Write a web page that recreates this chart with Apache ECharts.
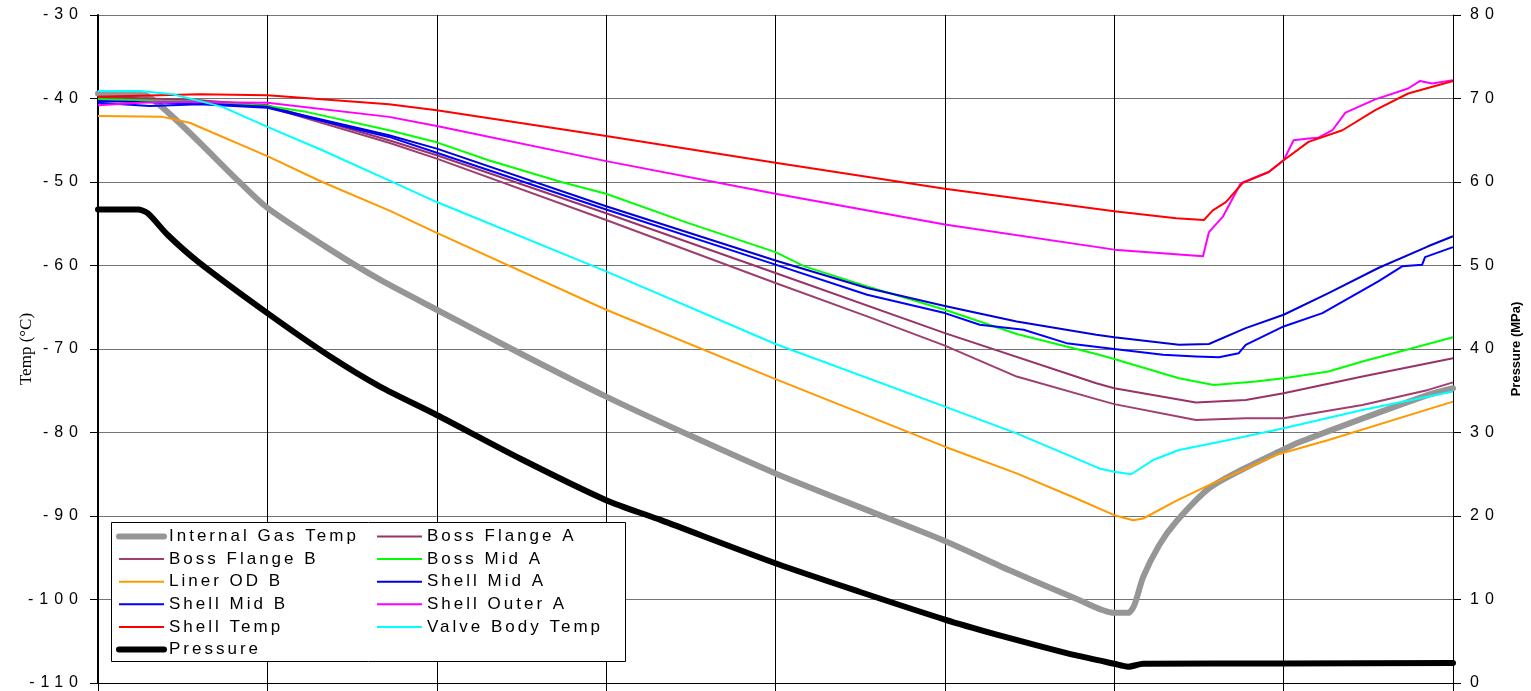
<!DOCTYPE html>
<html><head><meta charset="utf-8">
<script src="https://cdn.jsdelivr.net/npm/echarts@6/dist/echarts.min.js"></script>
<style>html,body{margin:0;padding:0;background:#fff}#chart{width:1531px;height:691px}</style>
</head><body><div id="chart"></div>
<script>
// letter spacing helper: font family marker "lspN" => N px letter spacing
(function(){
  var P = CanvasRenderingContext2D.prototype, orig = P.fillText;
  P.fillText = function(t, x, y, w){
    var m = /lsp(\d+)/.exec(this.font || '');
    if ('letterSpacing' in this) this.letterSpacing = m ? m[1] + 'px' : '0px';
    return w === undefined ? orig.call(this, t, x, y) : orig.call(this, t, x, y, w);
  };
})();

// ---- data: [time (grid units), value] ----
var tempTicks = [-110, -100, -90, -80, -70, -60, -50, -40, -30];
var pressureTicks = [0, 10, 20, 30, 40, 50, 60, 70, 80];

var gasTemp = [[0,-39.4],[0.265,-39.5],[0.347,-40.5],[0.541,-44.1],[0.835,-50.0],[1.0,-53.1],[1.371,-58.1],[1.665,-61.7],[2.0,-65.3],[2.5,-70.6],[3.0,-75.7],[3.5,-80.4],[4.0,-84.9],[4.541,-89.3],[5.0,-93.0],[5.382,-96.5],[5.776,-99.9],[6.0,-101.6],[6.082,-101.6],[6.118,-100.7],[6.171,-97.3],[6.265,-93.5],[6.365,-90.7],[6.559,-86.7],[6.759,-84.4],[6.971,-82.3],[7.088,-81.2],[7.853,-75.5],[8.0,-74.7]];
var bossFlangeA = [[0,-39.8],[0.6,-40.2],[1.0,-40.8],[1.718,-45.0],[2.0,-46.8],[3.0,-53.75],[4.0,-60.9],[5.0,-68.1],[5.894,-74.1],[6.0,-74.7],[6.482,-76.4],[6.776,-76.1],[7.0,-75.3],[7.465,-73.3],[8.0,-71.1]];
var bossFlangeB = [[0,-40.0],[0.6,-40.4],[1.0,-41.0],[1.718,-45.3],[2.0,-47.2],[3.0,-54.55],[4.0,-62.1],[4.541,-66.1],[5.0,-69.6],[5.424,-73.3],[5.894,-76.0],[6.0,-76.6],[6.482,-78.5],[6.776,-78.3],[7.0,-78.3],[7.465,-76.7],[7.853,-74.9],[8.0,-74.0]];
var bossMidA = [[0,-40.1],[0.6,-40.4],[1.0,-40.9],[1.229,-41.6],[1.718,-43.8],[2.0,-45.25],[2.306,-47.4],[2.735,-50.0],[3.0,-51.4],[3.482,-54.9],[4.0,-58.4],[4.171,-60.1],[4.541,-62.5],[5.0,-65.3],[5.424,-68.2],[5.894,-70.6],[6.0,-71.2],[6.382,-73.5],[6.588,-74.3],[6.835,-73.9],[7.0,-73.5],[7.265,-72.7],[7.465,-71.5],[7.759,-69.9],[8.0,-68.6]];
var linerODB = [[0,-42.1],[0.382,-42.2],[0.541,-42.9],[1.0,-46.9],[1.324,-50.0],[1.718,-53.4],[2.0,-56.1],[3.0,-65.3],[4.0,-73.6],[5.0,-81.7],[5.424,-84.9],[5.776,-87.9],[6.0,-89.9],[6.112,-90.5],[6.171,-90.3],[6.365,-88.2],[6.559,-86.3],[6.759,-84.5],[6.953,-82.7],[7.265,-80.9],[8.0,-76.3]];
var shellMidA = [[0,-40.3],[0.6,-40.6],[1.0,-41.0],[1.718,-44.4],[2.0,-46.0],[3.0,-52.9],[4.0,-59.4],[4.541,-62.7],[5.0,-64.85],[5.424,-66.7],[5.894,-68.3],[6.0,-68.6],[6.382,-69.5],[6.559,-69.4],[6.776,-67.5],[7.0,-65.9],[7.265,-63.3],[7.559,-60.3],[7.853,-57.7],[8.0,-56.5]];
var shellMidB = [[0,-40.5],[0.306,-40.9],[0.6,-40.7],[1.0,-41.1],[1.718,-44.6],[2.0,-46.5],[3.0,-53.3],[4.0,-59.9],[4.541,-63.5],[5.0,-65.7],[5.206,-67.1],[5.465,-67.7],[5.718,-69.3],[6.0,-70.0],[6.288,-70.7],[6.482,-70.9],[6.618,-71.0],[6.735,-70.5],[6.776,-69.5],[7.0,-67.3],[7.229,-65.7],[7.559,-61.9],[7.7,-60.1],[7.818,-59.9],[7.835,-59.0],[8.0,-57.8]];
var shellOuterA = [[0,-40.8],[0.347,-40.4],[1.0,-40.5],[1.718,-42.2],[2.0,-43.3],[3.0,-47.5],[4.0,-51.4],[5.0,-55.1],[6.0,-58.1],[6.524,-58.9],[6.559,-56.0],[6.641,-54.15],[6.747,-50.15],[6.912,-48.8],[7.0,-47.4],[7.059,-45.0],[7.147,-44.8],[7.206,-44.7],[7.288,-43.8],[7.365,-41.7],[7.541,-40.1],[7.735,-38.8],[7.806,-37.9],[7.876,-38.2],[8.0,-37.8]];
var shellTemp = [[0,-39.8],[0.6,-39.5],[1.0,-39.6],[1.718,-40.7],[2.0,-41.4],[3.0,-44.5],[4.0,-47.7],[5.0,-50.8],[6.0,-53.5],[6.365,-54.35],[6.529,-54.55],[6.582,-53.4],[6.659,-52.4],[6.759,-50.1],[6.912,-48.8],[7.0,-47.4],[7.147,-45.2],[7.347,-43.8],[7.541,-41.4],[7.735,-39.4],[8.0,-37.9]];
var valveBodyTemp = [[0,-39.1],[0.247,-39.1],[0.441,-39.5],[0.735,-41.0],[1.0,-43.4],[1.324,-46.2],[1.718,-49.8],[2.0,-52.4],[3.0,-60.7],[4.0,-69.4],[5.0,-76.9],[5.424,-80.1],[5.912,-84.3],[6.0,-84.7],[6.1,-85.0],[6.229,-83.3],[6.382,-82.1],[6.676,-80.9],[7.0,-79.5],[7.465,-77.3],[8.0,-75.1]];
var pressure = [[0,56.7],[0.235,56.7],[0.294,56.25],[0.412,53.65],[0.588,50.5],[1.0,44.3],[1.371,39.1],[1.665,35.5],[2.0,32.1],[2.5,26.8],[3.0,21.9],[3.324,19.5],[4.012,14.25],[4.5,10.9],[5.0,7.6],[5.306,5.8],[5.582,4.3],[5.776,3.3],[6.0,2.3],[6.082,1.95],[6.171,2.3],[7.0,2.35],[8.0,2.4]];

var thick = {width:6, cap:'round'};
var legendCol1 = [{name:'Internal Gas Temp', lineStyle:thick},'Boss Flange B','Liner OD B','Shell Mid B','Shell Temp',{name:'Pressure', lineStyle:thick}];
var legendCol2 = ['Boss Flange A','Boss Mid A','Shell Mid A','Shell Outer A','Valve Body Temp'];

function line(name, data, color, width, yIdx, smooth){
  return {name:name, type:'line', data:data, yAxisIndex:yIdx||0, symbol:'none', showSymbol:false,
    smooth: smooth || false,
    lineStyle:{color:color, width:width, cap: width>3?'round':'butt', join:'round'},
    itemStyle:{color:color, opacity:0}, emphasis:{disabled:true}, animation:false};
}

var labelFont = 'Liberation Sans, lsp6';
var legendText = {fontFamily:'Liberation Sans, lsp3', fontSize:17, color:'#000', lineHeight:17};

var chart = echarts.init(document.getElementById('chart'), null, {renderer:'canvas'});
chart.setOption({
  backgroundColor:'#fff',
  animation:false,
  grid:{left:98, right:73, top:15, bottom:8, containLabel:false},
  xAxis:{type:'value', min:0, max:8, interval:1,
    axisLine:{show:true, onZero:false, lineStyle:{color:'#000', width:1}},
    axisTick:{show:true, length:8, lineStyle:{color:'#000'}},
    axisLabel:{show:false},
    splitLine:{show:true, lineStyle:{color:'#000', width:1}}},
  yAxis:[
    {type:'value', min:tempTicks[0], max:tempTicks[tempTicks.length-1], interval:10, position:'left',
      name:'Temp (°C)', nameLocation:'middle', nameGap:63,
      nameTextStyle:{fontFamily:'Liberation Serif', fontSize:17, color:'#000'},
      axisLine:{show:true, onZero:false, lineStyle:{color:'#000', width:2}},
      axisTick:{show:true, length:8, lineStyle:{color:'#000'}},
      axisLabel:{margin:14, fontFamily:labelFont, fontSize:16, color:'#000'},
      splitLine:{show:true, lineStyle:{color:'#747474', width:1}}},
    {type:'value', min:pressureTicks[0], max:pressureTicks[pressureTicks.length-1], interval:10, position:'right',
      name:'Pressure (MPa)', nameLocation:'middle', nameGap:57,
      nameTextStyle:{fontFamily:'Liberation Sans', fontSize:13, fontWeight:'bold', color:'#000'},
      axisLine:{show:true, onZero:false, lineStyle:{color:'#000', width:1}},
      axisTick:{show:true, length:8, lineStyle:{color:'#000'}},
      axisLabel:{margin:17, fontFamily:labelFont, fontSize:16, color:'#000'},
      splitLine:{show:false}}
  ],
  graphic:[{type:'rect', z:50, shape:{x:111.5, y:522.5, width:514, height:139},
    style:{fill:'#fff', stroke:'#000', lineWidth:1}}],
  legend:[
    {orient:'vertical', left:111, top:523, padding:5, itemWidth:45, itemHeight:17, itemGap:5.6, z:60,
      selectedMode:false, data:legendCol1, textStyle:legendText, itemStyle:{opacity:0}},
    {orient:'vertical', left:371, top:523, padding:5, itemWidth:45, itemHeight:17, itemGap:5.6, z:60,
      selectedMode:false, data:legendCol2, textStyle:legendText, itemStyle:{opacity:0}}
  ],
  series:[
    line('Internal Gas Temp', gasTemp, '#969696', 6, 0, 0.25),
    line('Boss Flange A', bossFlangeA, '#993366', 2),
    line('Boss Flange B', bossFlangeB, '#9E3F70', 2),
    line('Boss Mid A', bossMidA, '#00FF00', 2),
    line('Liner OD B', linerODB, '#FF9900', 2),
    line('Shell Mid A', shellMidA, '#0000DD', 2),
    line('Shell Mid B', shellMidB, '#0000FF', 2),
    line('Shell Outer A', shellOuterA, '#FF00FF', 2),
    line('Shell Temp', shellTemp, '#FF0000', 2),
    line('Valve Body Temp', valveBodyTemp, '#00FFFF', 2),
    line('Pressure', pressure, '#000000', 6, 1, 0.25)
  ]
});
</script></body></html>
